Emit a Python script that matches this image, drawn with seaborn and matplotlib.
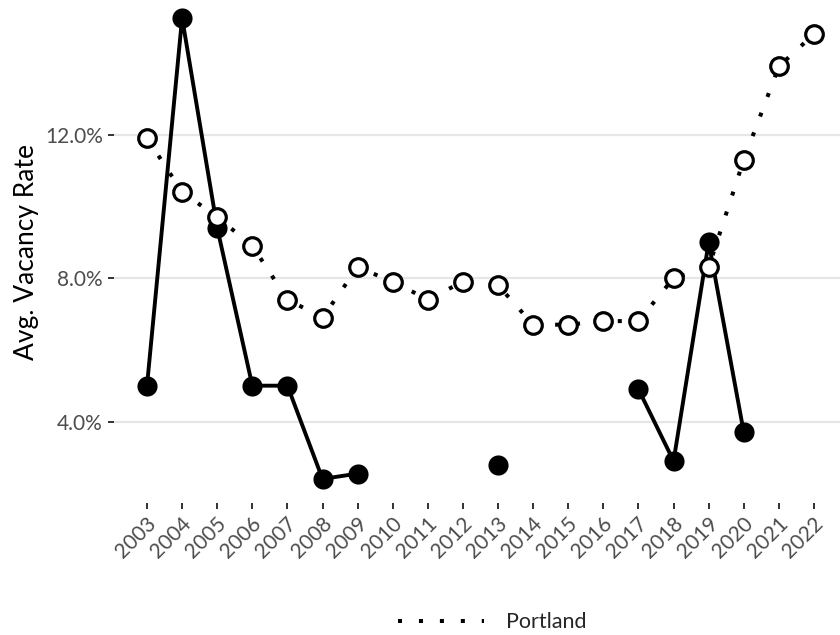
import numpy as np
import pandas as pd
import matplotlib
matplotlib.use("Agg")
import matplotlib.pyplot as plt
import matplotlib.transforms as mtransforms
import seaborn as sns
from matplotlib.lines import Line2D
from matplotlib.ticker import FuncFormatter

years = list(range(2003, 2023))

# Portland average vacancy rate (%), open markers, dotted line
portland = [11.9, 10.4, 9.7, 8.9, 7.4, 6.9, 8.3, 7.9, 7.4, 7.9,
            7.8, 6.7, 6.7, 6.8, 6.8, 8.0, 8.3, 11.3, 13.9, 14.8]

# second series (filled markers, solid line), gaps where no data
local = [5.0, 15.25, 9.4, 5.0, 5.0, 2.4, 2.55, np.nan, np.nan, np.nan,
         2.8, np.nan, np.nan, np.nan, 4.9, 2.9, 9.0, 3.7, np.nan, np.nan]

df_p = pd.DataFrame({"year": years, "rate": portland})
df_l = pd.DataFrame({"year": years, "rate": local})
# split the solid series into runs so gaps stay open
df_l["seg"] = df_l["rate"].isna().cumsum()
df_l = df_l.dropna()

sns.set_theme(style="white")
plt.rcParams["font.family"] = ["Lato", "DejaVu Sans"]

fig = plt.figure(figsize=(8.4, 6.35), dpi=100)
ax = fig.add_axes([114 / 840, 1 - 503 / 635, 1 - 114 / 840, 503 / 635])

ax.yaxis.grid(True, color="#e6e6e6", linewidth=1.6, zorder=0)
ax.xaxis.grid(False)

# lines first, then points on top (filled, then open)
sns.lineplot(data=df_l, x="year", y="rate", units="seg", estimator=None,
             color="black", linewidth=2.8, ax=ax, zorder=2, legend=False)
sns.lineplot(data=df_p, x="year", y="rate", color="black", linewidth=2.9,
             linestyle=(0, (1, 4.2)), dash_capstyle="butt", ax=ax, zorder=2,
             legend=False)
sns.scatterplot(data=df_l, x="year", y="rate", color="black", s=210,
                edgecolor="black", linewidth=0, ax=ax, zorder=3, legend=False)
sns.scatterplot(data=df_p, x="year", y="rate", color="white", s=160,
                edgecolor="black", linewidth=2.3, ax=ax, zorder=4, legend=False)

ax.set_xlim(2003 - 33 / 35.1, 2022 + 26 / 35.1)
ax.set_ylim(1.73, 15.75)
ax.set_xticks(years)
ax.set_yticks([4, 8, 12])
ax.yaxis.set_major_formatter(FuncFormatter(lambda v, p: f"{v:.1f}%"))
ax.set_xlabel("")
ax.set_ylabel("Avg. Vacancy Rate", fontsize=19, color="black", labelpad=4)

for s in ax.spines.values():
    s.set_visible(False)

ax.tick_params(axis="both", which="major", length=4, width=1.3, color="#222222",
               labelsize=15, labelcolor="#4d4d4d", pad=4, left=True, bottom=True)
ax.tick_params(axis="x", pad=7)
shift = mtransforms.ScaledTranslation(6 / 100, -2 / 100, fig.dpi_scale_trans)
for lab in ax.get_xticklabels():
    lab.set_rotation(45)
    lab.set_ha("right")
    lab.set_va("center")
    lab.set_rotation_mode("anchor")
    lab.set_transform(lab.get_transform() + shift)

handle = Line2D([0], [0], color="black", linewidth=2.9,
                linestyle=(0, (1, 4.2)), dash_capstyle="butt")
fig.legend([handle], ["Portland"], loc="center", bbox_to_anchor=(0.586, 0.02),
           frameon=False, fontsize=15.5, handlelength=4.0, handletextpad=1.0)

fig.savefig("out.png", dpi=100)
